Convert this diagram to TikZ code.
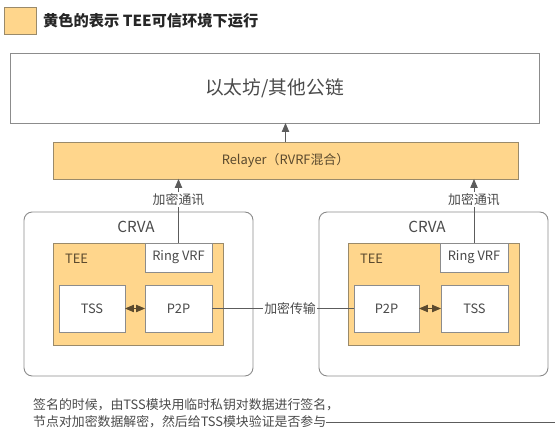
\documentclass[tikz,border=0pt]{standalone}
\usepackage{fontspec}
\setmainfont{Noto Sans CJK SC}
\usepackage{xcolor}
\usetikzlibrary{shapes.geometric, arrows}

\definecolor{teefill}{HTML}{FFD68C}
\definecolor{teeline}{HTML}{9A8A6A}
\definecolor{boxline}{HTML}{8C8C8C}
\definecolor{teetext}{HTML}{5B4A2E}
\definecolor{plaintext}{HTML}{4A4A4A}

\tikzset{
    wh/.style 2 args={minimum width=#1*0.03cm, minimum height=#2*0.03cm},
    plainbox/.style={draw=boxline, line width=0.8pt, fill=white, inner sep=0pt, outer sep=0pt, text=plaintext},
    teebox/.style={draw=teeline, line width=0.8pt, fill=teefill, inner sep=0pt, outer sep=0pt, text=teetext},
    crvabox/.style={plainbox, rounded corners=7pt},
    link/.style={draw=plaintext!90, line width=0.75pt},
}

\begin{document}
\begin{tikzpicture}[x=0.03cm, y=-0.03cm]
        \useasboundingbox (0,0) rectangle (555,433);

        % legend
        \node[teebox, wh={32}{27}] (legend) at (20,20.5) {};
        \node[anchor=west, font=\bfseries\fontsize{13}{15}\selectfont, text=black!85] (legendtext) at (39,20.5) {黄色的表示 TEE可信环境下运行};

        \node[plainbox, wh={529}{70}, font=\fontsize{16}{19}\selectfont] (chain) at (274.5,88) {以太坊/其他公链};
        \node[teebox, wh={465}{37}, font=\fontsize{11}{13}\selectfont] (relayer) at (285.5,160.5) {Relayer（RVRF混合）};

        % left CRVA
        \node[crvabox, wh={229}{164}] (crvaL) at (138.5,294) {};
        \node[font=\fontsize{13}{15}\selectfont, text=plaintext] (crvaLtext) at (136,227) {CRVA};
        \node[teebox, wh={170}{102}] (teeL) at (138,294) {};
        \node[anchor=west, font=\fontsize{11}{13}\selectfont, text=teetext] (teeLtext) at (61,259) {TEE};
        \node[plainbox, wh={67}{29}, font=\fontsize{11}{13}\selectfont] (vrfL) at (178.5,257.5) {Ring VRF};
        \node[plainbox, wh={66}{47}, font=\fontsize{11}{13}\selectfont] (tssL) at (92,308.5) {TSS};
        \node[plainbox, wh={67}{47}, font=\fontsize{11}{13}\selectfont] (p2pL) at (178.5,308.5) {P2P};

        % right CRVA
        \node[crvabox, wh={229}{164}] (crvaR) at (433.5,294) {};
        \node[font=\fontsize{13}{15}\selectfont, text=plaintext] (crvaRtext) at (427,227) {CRVA};
        \node[teebox, wh={171}{102}] (teeR) at (433.5,294) {};
        \node[anchor=west, font=\fontsize{11}{13}\selectfont, text=teetext] (teeRtext) at (356,259) {TEE};
        \node[plainbox, wh={68}{29}, font=\fontsize{11}{13}\selectfont] (vrfR) at (474,257.5) {Ring VRF};
        \node[plainbox, wh={65}{47}, font=\fontsize{11}{13}\selectfont] (p2pR) at (386.5,308.5) {P2P};
        \node[plainbox, wh={67}{47}, font=\fontsize{11}{13}\selectfont] (tssR) at (474.5,308.5) {TSS};

        % note
        \node[anchor=west, font=\fontsize{11}{13}\selectfont, text=plaintext, inner sep=0pt] (note1) at (33,405) {签名的时候，由TSS模块用临时私钥对数据进行签名，};
        \node[anchor=west, font=\fontsize{11}{13}\selectfont, text=plaintext, inner sep=0pt] (note2) at (33,422) {节点对加密数据解密，然后给TSS模块验证是否参与};
        \coordinate (noteend) at (555,422);

        % relayer -> chain
        \draw[link, -triangle 45] (relayer) -- (relayer.north |- chain.south);

        % vrf -> relayer
        \draw[link, -triangle 45] (vrfL) -- node[pos=0.68, fill=white, inner sep=1pt, font=\fontsize{11}{13}\selectfont, text=plaintext] (msgL) {加密通讯} (vrfL.north |- relayer.south);
        \draw[link, -triangle 45] (vrfR) -- node[pos=0.68, fill=white, inner sep=1pt, font=\fontsize{11}{13}\selectfont, text=plaintext] (msgR) {加密通讯} (vrfR.north |- relayer.south);

        % tss <-> p2p
        \draw[link, draw=teetext, triangle 45-triangle 45] (tssL) -- (p2pL);
        \draw[link, draw=teetext, triangle 45-triangle 45] (p2pR) -- (tssR);

        % p2p -- p2p
        \draw[link] (p2pL) -- node[pos=0.55, fill=white, inner sep=1pt, font=\fontsize{11}{13}\selectfont, text=plaintext] (transfer) {加密传输} (p2pR);

        % note line
        \draw[link] (note2) -- (noteend);
    \end{tikzpicture}
\end{document}
